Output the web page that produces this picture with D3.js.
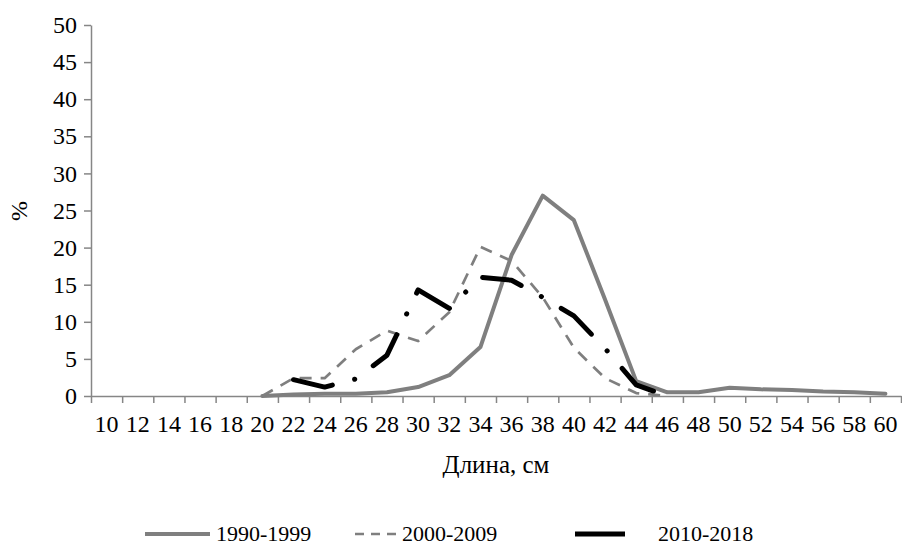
<!DOCTYPE html>
<html>
<head>
<meta charset="utf-8">
<script src="https://d3js.org/d3.v7.min.js"></script>
<style>
  body { margin: 0; background: #fff; }
  svg { display: block; }
  text { font-family: "Liberation Serif", "Times New Roman", serif; fill: #000; }
</style>
</head>
<body>
<div id="chart"></div>
<script>
// categories (length, cm) and tick labels
const lengths = ["10","12","14","16","18","20","22","24","26","28","30","32","34","36","38","40","42","44","46","48","50","52","54","56","58","60"]
const yTicks = [0, 5, 10, 15, 20, 25, 30, 35, 40, 45, 50]

// series values, %; first value belongs to the category named in *Start
const s1990Start = "20"
const s1990 = [0, 0.2, 0.3, 0.3, 0.5, 1.2, 2.8, 6.6, 19, 27, 23.7, 13, 2, 0.5, 0.5, 1.1, 0.9, 0.8, 0.6, 0.5, 0.3]
const s2000Start = "20"
const s2000 = [0, 2.4, 2.4, 6.3, 8.8, 7.4, 11.3, 20.1, 18.2, 13.3, 6.5, 2.4, 0.4, 0]
const s2010Start = "22"
const s2010 = [2.2, 1.2, 2.3, 5.5, 14.3, 11.8, 16, 15.6, 13.3, 10.8, 6.4, 1.5, 0]

const seriesNames = ["1990-1999", "2000-2009", "2010-2018"]

const width = 902, height = 545
const margin = { top: 25, left: 91, right: 1, bottom: 149 }

const svg = d3.select("#chart").append("svg")
    .attr("width", width)
    .attr("height", height)

svg.append("rect").attr("width", width).attr("height", height).attr("fill", "#fff")

const x = d3.scaleBand()
    .domain(lengths)
    .range([margin.left, width - margin.right])
    .padding(0)

// tick marks sit between categories
const xEdge = d3.scaleLinear()
    .domain([0, lengths.length])
    .range([margin.left, width - margin.right])

const y = d3.scaleLinear()
    .domain([0, 50])
    .range([height - margin.bottom, margin.top])

const axisColor = "#868686"

// y axis
const yAxis = svg.append("g")
    .attr("transform", `translate(${margin.left},0)`)
    .call(d3.axisLeft(y).tickValues(yTicks).tickSize(7).tickPadding(7).tickSizeOuter(0))
yAxis.select(".domain").attr("stroke", axisColor).attr("stroke-width", 1.5)
yAxis.selectAll(".tick line").attr("stroke", axisColor).attr("stroke-width", 1.5)
yAxis.selectAll(".tick text").attr("font-size", 24).attr("font-family", "Liberation Serif").attr("fill", "#000")

// x axis: labels centred in bands, ticks on the edges
const xAxis = svg.append("g")
    .attr("transform", `translate(0,${y(0)})`)
    .call(d3.axisBottom(x).tickSize(0).tickPadding(19))
xAxis.select(".domain").attr("stroke", axisColor).attr("stroke-width", 1.5)
xAxis.selectAll(".tick text").attr("font-size", 24).attr("font-family", "Liberation Serif").attr("fill", "#000")

svg.append("g")
    .attr("transform", `translate(0,${y(0)})`)
    .call(d3.axisBottom(xEdge).tickValues(d3.range(lengths.length + 1)).tickSize(7).tickFormat(""))
    .call(g => g.select(".domain").remove())
    .selectAll(".tick line").attr("stroke", axisColor).attr("stroke-width", 1.5)

// axis titles
svg.append("text")
    .attr("x", (margin.left + width - margin.right) / 2)
    .attr("y", 473)
    .attr("text-anchor", "middle")
    .attr("font-size", 25)
    .text("Длина, см")

svg.append("text")
    .attr("transform", `translate(27,211) rotate(-90)`)
    .attr("text-anchor", "middle")
    .attr("font-size", 24)
    .text("%")

// lines
function points(start, vals) {
    const i0 = lengths.indexOf(start)
    return vals.map((v, i) => [lengths[i0 + i], v])
}

const line = d3.line()
    .x(d => x(d[0]) + x.bandwidth() / 2)
    .y(d => y(d[1]))

const styles = [
    { stroke: "#7f7f7f", width: 4, dash: null, cap: "round" },
    { stroke: "#7f7f7f", width: 2.7, dash: "12,9", cap: "butt" },
    { stroke: "#000", width: 5, dash: "40,23,0.1,23", cap: "round" }
]

const series = [
    points(s1990Start, s1990),
    points(s2000Start, s2000),
    points(s2010Start, s2010)
]

svg.selectAll(".series")
    .data(series)
    .enter().append("path")
    .attr("class", "series")
    .attr("d", line)
    .attr("fill", "none")
    .attr("stroke", (d, i) => styles[i].stroke)
    .attr("stroke-width", (d, i) => styles[i].width)
    .attr("stroke-dasharray", (d, i) => styles[i].dash)
    .attr("stroke-linecap", (d, i) => styles[i].cap)
    .attr("stroke-linejoin", "round")

// legend
const legendY = 534
const legendPos = [
    { x1: 145, x2: 210, tx: 216 },
    { x1: 355, x2: 397, tx: 402 },
    { x1: 575, x2: 625, tx: 658 }
]

const legend = svg.selectAll(".legend")
    .data(seriesNames)
    .enter().append("g")
    .attr("class", "legend")

legend.append("line")
    .attr("x1", (d, i) => legendPos[i].x1)
    .attr("x2", (d, i) => legendPos[i].x2)
    .attr("y1", legendY)
    .attr("y2", legendY)
    .attr("stroke", (d, i) => styles[i].stroke)
    .attr("stroke-width", (d, i) => styles[i].width)
    .attr("stroke-dasharray", (d, i) => i === 1 ? "9,7" : null)

legend.append("text")
    .attr("x", (d, i) => legendPos[i].tx)
    .attr("y", legendY)
    .attr("dy", "0.33em")
    .attr("font-size", 22)
    .text(d => d)
</script>
</body>
</html>
